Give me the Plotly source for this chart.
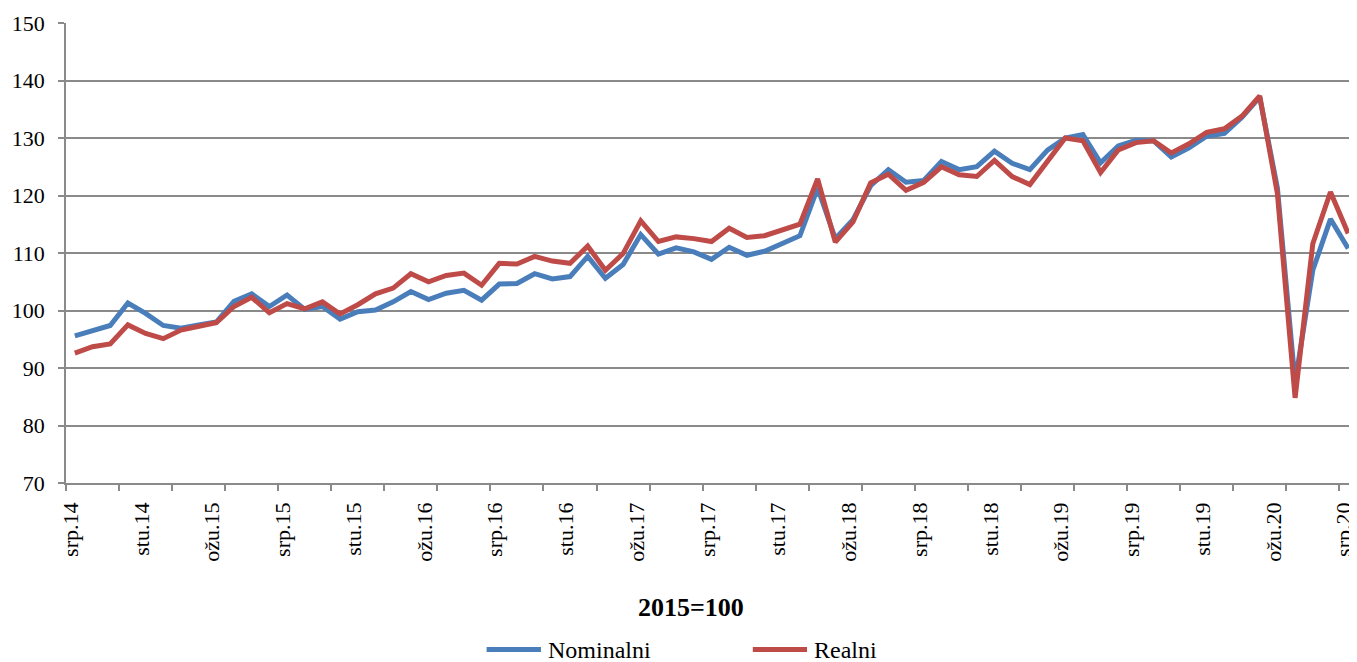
import plotly.graph_objects as go

# Monthly periods, srp.14 (July 2014) .. srp.20 (July 2020)
month_abbr = ["sij", "velj", "ožu", "tra", "svi", "lip", "srp", "kol", "ruj", "lis", "stu", "pro"]
periods = []
m, yy = 6, 14
for _ in range(73):
    periods.append(f"{month_abbr[m]}.{yy:02d}")
    m += 1
    if m == 12:
        m, yy = 0, yy + 1

nominalni = [95.6, 96.6, 97.4, 101.3, 99.5, 97.4, 96.9, 97.5, 98.0, 101.6,
             102.9, 100.7, 102.7, 100.2, 100.7, 98.5, 99.8, 100.1, 101.5, 103.3,
             101.9, 103.0, 103.5, 101.8, 104.6, 104.7, 106.4, 105.5, 105.9, 109.4,
             105.6, 108.0, 113.2, 109.8, 110.9, 110.2, 108.9, 111.0, 109.6, 110.3,
             111.6, 113.0, 121.3, 112.5, 115.8, 121.7, 124.5, 122.3, 122.6, 125.9,
             124.5, 125.0, 127.7, 125.6, 124.5, 127.9, 130.0, 130.6, 125.7, 128.6,
             129.6, 129.5, 126.7, 128.3, 130.3, 130.8, 133.6, 137.1, 121.3, 87.5,
             107.0, 115.9, 110.8]
realni = [92.6, 93.7, 94.2, 97.5, 96.0, 95.1, 96.6, 97.3, 97.9, 100.7,
          102.3, 99.6, 101.2, 100.3, 101.5, 99.4, 101.0, 102.9, 103.9, 106.4,
          105.0, 106.1, 106.5, 104.4, 108.2, 108.1, 109.4, 108.6, 108.2, 111.2,
          107.0, 109.9, 115.6, 112.0, 112.8, 112.5, 112.0, 114.3, 112.7, 113.0,
          113.9, 115.0, 122.9, 111.9, 115.4, 122.2, 123.7, 120.9, 122.3, 125.0,
          123.6, 123.3, 126.1, 123.3, 121.9, 125.8, 130.0, 129.5, 124.0, 127.9,
          129.2, 129.5, 127.4, 129.0, 131.0, 131.6, 133.8, 137.3, 120.3, 84.8,
          111.6, 120.6, 113.4]
series_names = ["Nominalni", "Realni"]
subtitle = "2015=100"

BLUE = "#4A7EBB"
RED = "#BE4B48"
GRID = "#8a8a8a"
FONT = "Liberation Serif"

x = list(range(len(periods)))

fig = go.Figure()
fig.add_trace(go.Scatter(x=x, y=nominalni, mode="lines", name=series_names[0],
                         line=dict(color=BLUE, width=5), showlegend=False))
fig.add_trace(go.Scatter(x=x, y=realni, mode="lines", name=series_names[1],
                         line=dict(color=RED, width=5), showlegend=False))

# The page body has an 8px margin, so the figure is sized/offset to compensate.
fig.update_layout(
    width=1349, height=654,
    margin=dict(l=58, r=0, t=15, b=179, autoexpand=False),
    paper_bgcolor="white", plot_bgcolor="white",
    font=dict(family=FONT, size=21, color="black"),
    xaxis=dict(
        range=[-0.5, len(periods) - 0.5],
        tickmode="array", tickvals=x[::4], ticktext=periods[::4],
        tickangle=-90, ticks="outside", ticklen=6, tickcolor="rgba(0,0,0,0)",
        showline=True, linecolor=GRID, linewidth=1.5,
        showgrid=False, zeroline=False,
        minor=dict(tickmode="array",
                   tickvals=[k - 0.5 for k in range(0, len(periods), 3)],
                   ticks="outside", ticklen=6, tickcolor=GRID, tickwidth=1.5,
                   showgrid=False),
        tickfont=dict(family=FONT, size=22),
        ticklabelstandoff=3,
        ticklabelshift=-4,
        ticklabeloverflow="allow",
        automargin=False,
    ),
    yaxis=dict(
        range=[70, 150], dtick=10, tick0=70,
        ticks="outside", ticklen=6, tickcolor=GRID, tickwidth=1.5,
        showline=True, linecolor=GRID, linewidth=1.5,
        showgrid=True, gridcolor=GRID, gridwidth=1.5, zeroline=False,
        tickfont=dict(family=FONT, size=22),
        ticklabelstandoff=9,
        automargin=False,
    ),
)

# Subtitle
fig.add_annotation(text=f"<b>{subtitle}</b>", xref="paper", yref="paper",
                   x=0.484, y=-0.2696, xanchor="center", yanchor="middle",
                   showarrow=False, font=dict(family=FONT, size=26, color="black"))

# Legend (drawn manually to match long line symbols)
leg_y = -0.362
for (x0, x1, tx), color, name in zip([(0.3258, 0.3679, 0.3718), (0.5320, 0.5740, 0.5776)],
                                      [BLUE, RED], series_names):
    fig.add_shape(type="line", xref="paper", yref="paper", x0=x0, x1=x1, y0=leg_y, y1=leg_y,
                  line=dict(color=color, width=5))
    fig.add_annotation(text=name, xref="paper", yref="paper", x=tx, y=leg_y,
                       xanchor="left", yanchor="middle", showarrow=False,
                       font=dict(family=FONT, size=24, color="black"))

fig.write_html("out.html")
